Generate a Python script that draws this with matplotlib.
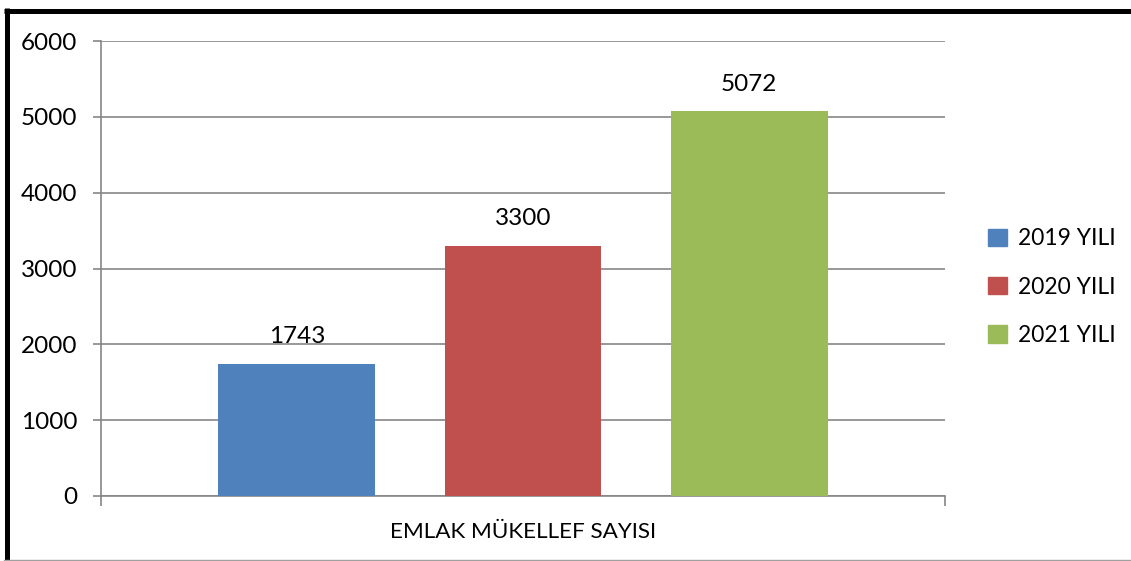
import matplotlib.pyplot as plt
from matplotlib.patches import Patch
from matplotlib.lines import Line2D

plt.rcParams['font.family'] = ['Lato', 'DejaVu Sans']

category = "EMLAK MÜKELLEF SAYISI"
series = ["2019 YILI", "2020 YILI", "2021 YILI"]
values = [1743, 3300, 5072]
colors = ["#4F81BD", "#C0504D", "#9BBB59"]

fig = plt.figure(figsize=(11.31, 5.61), dpi=100)
ax = fig.add_axes([101 / 1131, 1 - 496 / 561, 844 / 1131, 455 / 561])

step = 0.268
width = 0.186
for i, (name, v, c) in enumerate(zip(series, values, colors)):
    x = (i - 1) * step
    ax.bar(x, v, width=width, color=c, label=name, zorder=3)
    ax.annotate(str(v), (x, v), xytext=(0, 12), textcoords="offset points",
                ha="center", va="bottom", fontsize=17.5)

ax.set_xlim(-0.5, 0.5)
ax.set_ylim(0, 6000)
ax.set_yticks(range(0, 6001, 1000))
ax.yaxis.grid(True, color="#868686", linewidth=1.2, zorder=0)
ax.tick_params(axis="y", length=6, color="#868686", width=1.2, labelsize=17.5, pad=11)
ax.set_xticks([0])
ax.set_xticklabels([category])
ax.set_xticks([-0.5, 0.5], minor=True)
ax.tick_params(axis="x", which="major", length=0, labelsize=16.2, pad=19)
ax.tick_params(axis="x", which="minor", length=7, color="#868686", width=1.2)
for s in ["top", "right"]:
    ax.spines[s].set_visible(False)
for s in ["left", "bottom"]:
    ax.spines[s].set_color("#868686")
    ax.spines[s].set_linewidth(1.2)

handles = [Patch(color=c) for c in colors]
fig.legend(handles, series, loc="center left", bbox_to_anchor=(968 / 1131, 1 - 287 / 561),
           frameon=False, fontsize=16.4, handlelength=0.8, handleheight=0.8,
           handletextpad=0.5, labelspacing=1.2)

# outer frame
fig.add_artist(Line2D([6.5 / 1131, 6.5 / 1131], [0, 1 - 8 / 561], transform=fig.transFigure,
                      color="black", linewidth=3.6, solid_capstyle="butt"))
fig.add_artist(Line2D([4 / 1131, 1], [1 - 10.5 / 561, 1 - 10.5 / 561], transform=fig.transFigure,
                      color="black", linewidth=3.6, solid_capstyle="butt"))
fig.add_artist(Line2D([4 / 1131, 1], [1.5 / 561, 1.5 / 561], transform=fig.transFigure,
                      color="#A0A0A0", linewidth=1))

fig.savefig("out.png", dpi=100)
